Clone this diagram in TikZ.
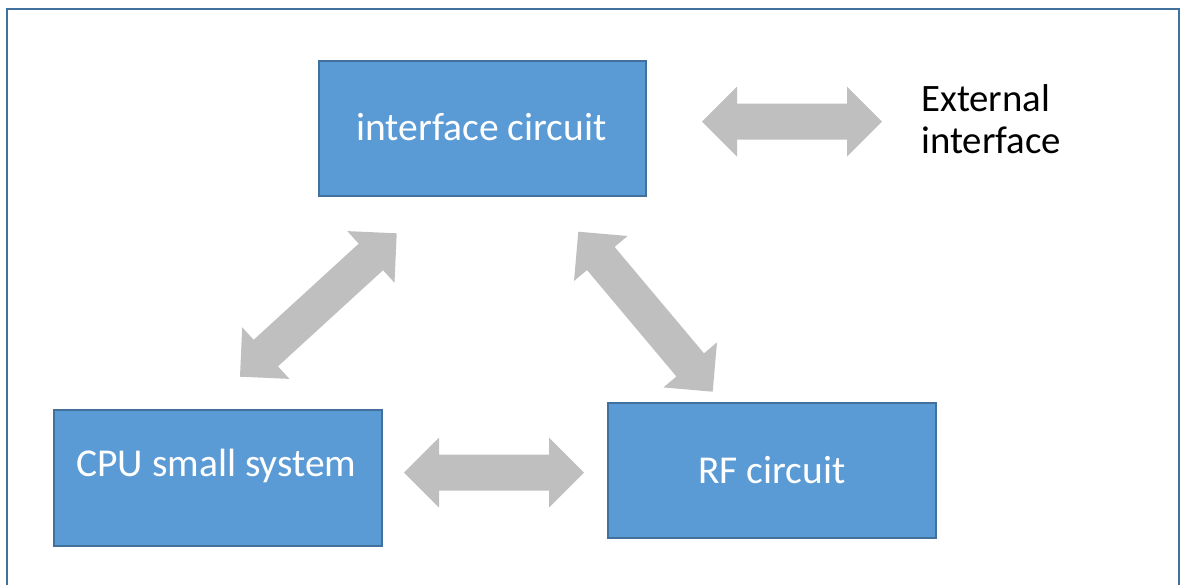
\documentclass[tikz,border=0pt]{standalone}
\usepackage{fontspec}
\setmainfont{Carlito}
\usetikzlibrary{calc}
\definecolor{boxfill}{HTML}{5B9BD5}
\definecolor{boxline}{HTML}{41719C}
\definecolor{framecol}{HTML}{41719C}
\definecolor{arrowgray}{HTML}{BFBFBF}
\tikzset{
  box/.style={draw=boxline, line width=2.2pt, fill=boxfill, inner sep=0pt, anchor=north west},
  boxtext/.style={text=white, font=\fontsize{39.5}{46}\selectfont, inner sep=0pt, anchor=base},
  plaintext/.style={text=black, font=\fontsize{38.8}{46}\selectfont, inner sep=0pt, anchor=base west, align=left},
  bigarrow/.style={fill=arrowgray, draw=none}
}
% double block arrow between two named coordinates
\newcommand{\blockarrow}[2]{%
  \fill[bigarrow]
    (#1)
    -- ($($(#1)!35pt!(#2)$)!35pt!90:(#2)$)
    -- ($($(#1)!35pt!(#2)$)!18pt!90:(#2)$)
    -- ($($(#2)!35pt!(#1)$)!18pt!-90:(#1)$)
    -- ($($(#2)!35pt!(#1)$)!35pt!-90:(#1)$)
    -- (#2)
    -- ($($(#2)!35pt!(#1)$)!35pt!90:(#1)$)
    -- ($($(#2)!35pt!(#1)$)!18pt!90:(#1)$)
    -- ($($(#1)!35pt!(#2)$)!18pt!-90:(#2)$)
    -- ($($(#1)!35pt!(#2)$)!35pt!-90:(#2)$)
    -- cycle;}
\begin{document}
\begin{tikzpicture}[x=1pt,y=-1pt]
\useasboundingbox (0,0) rectangle (1181,584);
% outer frame (bottom edge lies below the visible area)
\draw[framecol, line width=2.4pt] (6.7,9) rectangle (1179,640);

% boxes
\node[box, minimum width=327pt, minimum height=135pt] (iface) at (318,60) {};
\node[box, minimum width=328pt, minimum height=136pt] (cpu) at (53,409) {};
\node[box, minimum width=328pt, minimum height=135pt] (rf) at (607,402) {};

\node[boxtext] (ifacetxt) at (481.5,140.7) {interface circuit};
\node[boxtext] (cputxt) at (216.5,476) {CPU small system};
\node[boxtext] (rftxt) at (772,483.3) {RF circuit};

\node[plaintext] (ext1) at (921,111.7) {External};
\node[plaintext] (ext2) at (921,153.3) {interface};

% arrow end points
\coordinate (a1) at (702,121.7);
\coordinate (a2) at (882,121.7);
\coordinate (b1) at (404,472.7);
\coordinate (b2) at (584,472.7);
\coordinate (c1) at (240,376.7);
\coordinate (c2) at (396.7,233.3);
\coordinate (d1) at (578.3,231.7);
\coordinate (d2) at (712.7,391.7);

\blockarrow{a1}{a2}
\blockarrow{b1}{b2}
\blockarrow{c1}{c2}
\blockarrow{d1}{d2}
\end{tikzpicture}
\end{document}
